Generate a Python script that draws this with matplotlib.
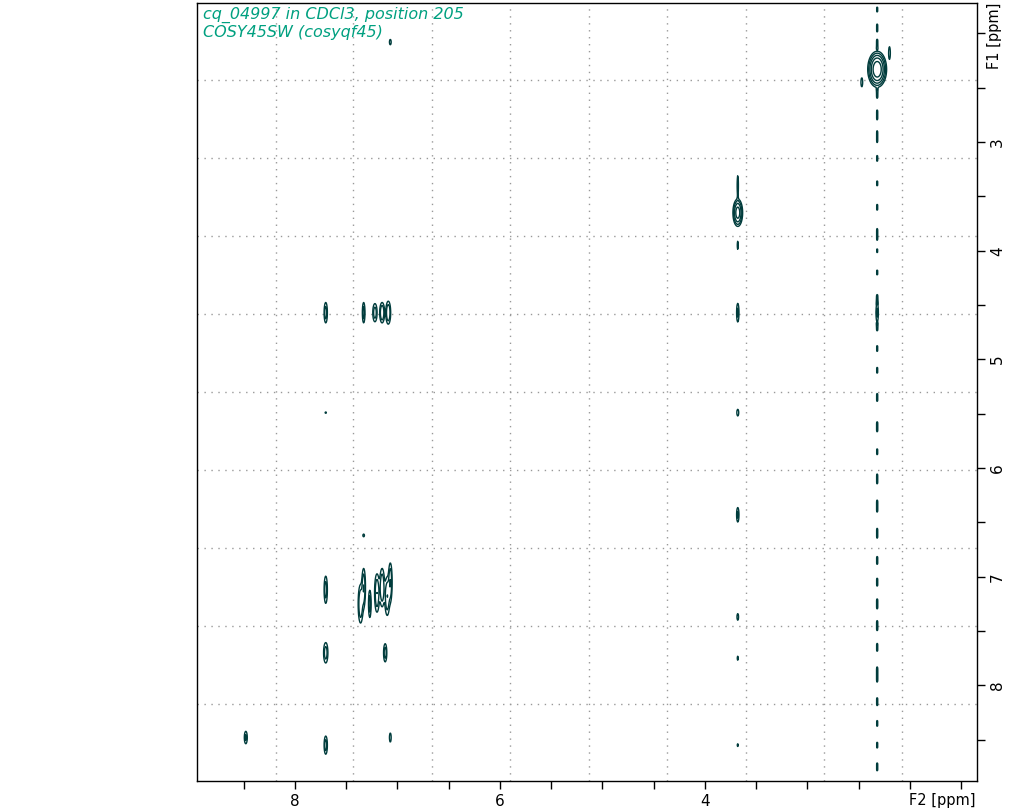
import numpy as np
import matplotlib
matplotlib.use("Agg")
import matplotlib.pyplot as plt
from matplotlib.ticker import MultipleLocator

# peaks: F2 ppm, F1 ppm, F2 width, F1 width, amplitude
peak_f2 = [2.32, 2.47, 2.20, 7.07, 3.68, 3.68, 3.68,
           7.70, 7.33, 7.22, 7.15, 7.09, 3.68, 2.32,
           7.70, 3.68, 3.68, 7.33,
           7.70, 7.36, 7.33, 7.27, 7.20, 7.15, 7.10, 7.07,
           3.68, 7.70, 7.12, 3.68,
           8.48, 7.70, 7.07, 3.68]
peak_f1 = [2.33, 2.45, 2.18, 2.08, 3.65, 3.40, 3.95,
           4.57, 4.57, 4.57, 4.57, 4.57, 4.57, 4.57,
           5.49, 5.49, 6.43, 6.62,
           7.12, 7.25, 7.10, 7.25, 7.15, 7.10, 7.18, 7.05,
           7.37, 7.70, 7.70, 7.75,
           8.48, 8.55, 8.48, 8.55]
peak_w2 = [0.05, 0.01, 0.01, 0.01, 0.03, 0.008, 0.008,
           0.015, 0.012, 0.02, 0.02, 0.02, 0.012, 0.012,
           0.01, 0.012, 0.012, 0.012,
           0.015, 0.02, 0.015, 0.012, 0.02, 0.02, 0.02, 0.015,
           0.01, 0.02, 0.015, 0.008,
           0.015, 0.015, 0.01, 0.008]
peak_w1 = [0.09, 0.05, 0.07, 0.03, 0.08, 0.12, 0.06,
           0.09, 0.09, 0.08, 0.08, 0.09, 0.09, 0.09,
           0.01, 0.04, 0.07, 0.02,
           0.12, 0.15, 0.15, 0.12, 0.15, 0.15, 0.15, 0.15,
           0.04, 0.09, 0.08, 0.03,
           0.06, 0.08, 0.05, 0.02]
peak_amp = [30, 2, 2, 2, 12, 1.8, 1.5,
            3, 3, 3, 4, 4, 2.5, 2.5,
            1.5, 1.8, 2.5, 1.5,
            3, 4, 4, 3, 4, 4, 4, 4,
            1.8, 3, 3, 1.5,
            2.5, 3, 2, 1.5]

# t1-noise streak along F2 = 2.32 (segment centres in F1, lengths, amplitude)
streak_f1 = [1.78, 1.95, 2.10, 2.55, 2.75, 2.95, 3.15, 3.38, 3.6, 3.85, 4.0, 4.2,
             4.45, 4.7, 4.9, 5.1, 5.35, 5.62, 5.85, 6.1, 6.35, 6.6, 6.85, 7.05,
             7.25, 7.45, 7.65, 7.9, 8.15, 8.35, 8.55, 8.75]
streak_len = [0.05, 0.08, 0.1, 0.1, 0.1, 0.12, 0.06, 0.05, 0.06, 0.12, 0.04, 0.05,
              0.1, 0.08, 0.06, 0.06, 0.08, 0.1, 0.06, 0.1, 0.12, 0.1, 0.08, 0.08,
              0.1, 0.1, 0.08, 0.15, 0.08, 0.06, 0.06, 0.08]
streak_amp = [1.5, 1.6, 1.8, 1.8, 1.6, 1.6, 1.5, 1.5, 1.5, 1.6, 1.4, 1.5,
              1.7, 1.6, 1.5, 1.5, 1.6, 1.7, 1.5, 1.6, 1.7, 1.6, 1.6, 1.6,
              1.7, 1.7, 1.6, 1.8, 1.6, 1.5, 1.5, 1.6]
streak_pos = 2.32

f2_grid = np.linspace(1.346, 8.956, 1500)
f1_grid = np.linspace(1.72, 8.88, 1400)
X, Y = np.meshgrid(f2_grid, f1_grid)
Z = np.zeros_like(X)
for a, b, wa, wb, amp in zip(peak_f2, peak_f1, peak_w2, peak_w1, peak_amp):
    Z += amp * np.exp(-((X - a) / wa) ** 2 - ((Y - b) / wb) ** 2)
for c, l, amp in zip(streak_f1, streak_len, streak_amp):
    Z += amp * np.exp(-((X - streak_pos) / 0.008) ** 2 - ((Y - c) / (l / 2)) ** 8)

fig = plt.figure(figsize=(10.27, 8.11), dpi=100)
ax = fig.add_axes([197/1027, 30/811, 780/1027, 778/811])
levels = [1, 2, 4, 8, 16]
ax.contour(X, Y, Z, levels=levels, colors="#003c3c", linewidths=1.0)

ax.set_xlim(8.956, 1.346)
ax.set_ylim(8.88, 1.72)

grid_x = [8.185, 7.434, 6.663, 5.90, 5.13, 4.37, 3.60, 2.84, 2.08]
grid_y = [2.43, 3.147, 3.865, 4.58, 5.30, 6.02, 6.735, 7.45, 8.17]
for g in grid_x:
    ax.axvline(g, color="#999999", lw=1.0, ls=(0, (1, 4)), zorder=0)
for g in grid_y:
    ax.axhline(g, color="#999999", lw=1.0, ls=(0, (1, 4)), zorder=0)

ax.xaxis.set_major_locator(MultipleLocator(2))
ax.xaxis.set_minor_locator(MultipleLocator(0.5))
ax.yaxis.set_major_locator(MultipleLocator(1))
ax.yaxis.set_minor_locator(MultipleLocator(0.5))
ax.yaxis.tick_right()
ax.tick_params(axis="both", which="both", direction="out", length=6, width=1,
               labelsize=11, color="black")
ax.set_xticks([8, 6, 4])
ax.set_yticks([3, 4, 5, 6, 7, 8])
for lab in ax.get_yticklabels():
    lab.set_rotation(90)
    lab.set_va("center")

for s in ax.spines.values():
    s.set_linewidth(1.0)

fig.text(942/1027, 1 - 800/811, "F2 [ppm]", fontsize=10.5, ha="center", va="center")
fig.text(994/1027, 1 - 36/811, "F1 [ppm]", fontsize=10.5, ha="center", va="center", rotation=90)

ax.text(0.008, 0.995, "cq_04997 in CDCl3, position 205\nCOSY45SW (cosyqf45)",
        transform=ax.transAxes, ha="left", va="top", fontsize=11.5,
        style="italic", color="#00a080", linespacing=1.2)

fig.savefig("out.png", dpi=100)
